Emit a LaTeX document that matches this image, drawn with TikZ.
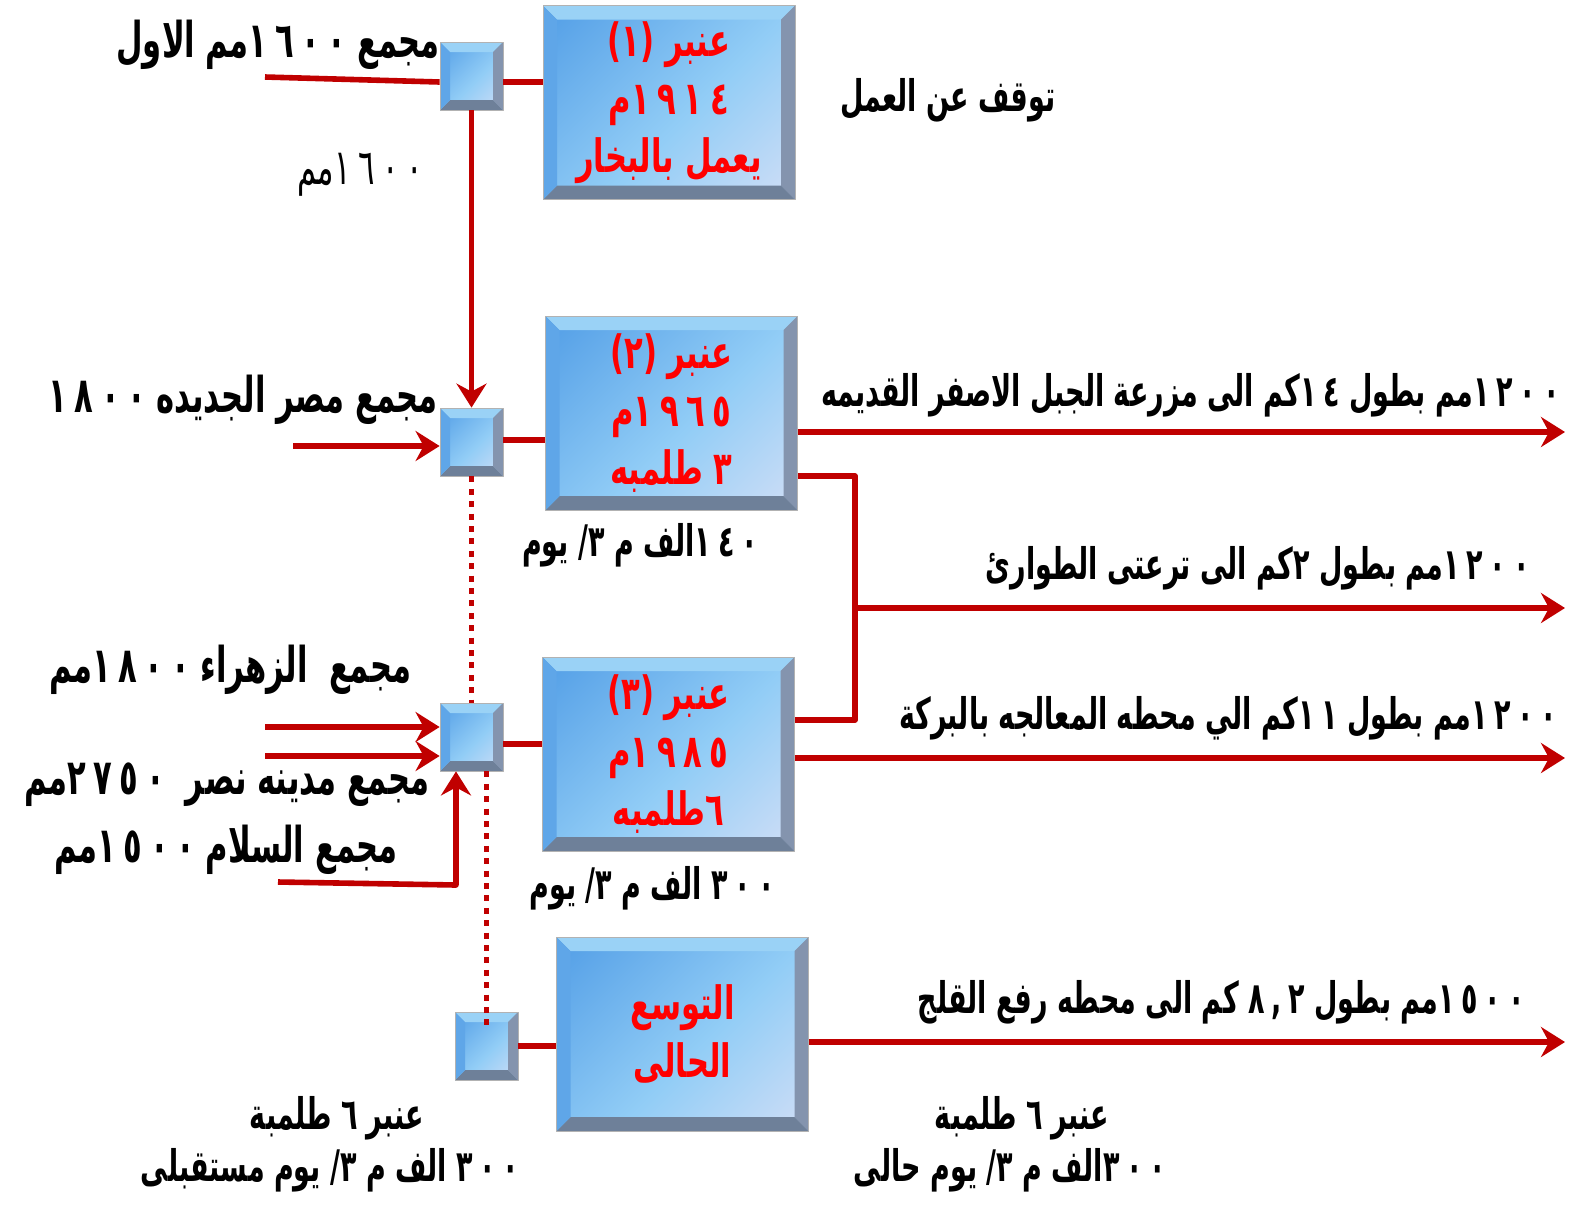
\documentclass[tikz,border=0pt]{standalone}
\usepackage{fontspec}
\usepackage{graphicx}
\usetikzlibrary{arrows.meta}
\TeXXeTstate=1
\newfontfamily\arabicfont[Script=Arabic]{DejaVu Sans}
\newfontfamily\digitfont[Script=Arabic,LetterSpace=25]{DejaVu Sans}
\newcommand\rl[2][1.45]{\scalebox{0.9}[#1]{\beginR#2\endR}}
\newcommand\nm[1]{\beginL{\digitfont#1}\endL{}}
\newcommand\dg[1]{\beginL#1\endL{}}
\definecolor{pipered}{HTML}{C00000}
\definecolor{tankblue}{HTML}{3A8CE0}
\definecolor{tanklight}{HTML}{92CDF6}
\definecolor{tanklav}{HTML}{EEE6F6}
\definecolor{bevtop}{HTML}{9AD2F6}
\definecolor{bevleft}{HTML}{5FA6E8}
\definecolor{bevright}{HTML}{8494AE}
\definecolor{bevbot}{HTML}{6E8099}
\pgfdeclareverticalshading{tankshade}{100bp}{color(0bp)=(tanklav); color(45bp)=(tanklight); color(100bp)=(tankblue)}
\begin{document}
\begin{tikzpicture}[x=0.5pt,y=-0.5pt,line join=round,font=\arabicfont\bfseries\fontsize{15}{18}\selectfont]
\tikzset{
	bevel/.style={path picture={
		\coordinate (q1) at (path picture bounding box.north west);
		\coordinate (q2) at (path picture bounding box.north east);
		\coordinate (q3) at (path picture bounding box.south east);
		\coordinate (q4) at (path picture bounding box.south west);
		\fill[bevtop] (q1)--(q2)--([shift={(-#1,-#1)}]q2)--([shift={(#1,-#1)}]q1)--cycle;
		\fill[bevright] (q2)--(q3)--([shift={(-#1,#1)}]q3)--([shift={(-#1,-#1)}]q2)--cycle;
		\fill[bevbot] (q3)--(q4)--([shift={(#1,#1)}]q4)--([shift={(-#1,#1)}]q3)--cycle;
		\fill[bevleft] (q4)--(q1)--([shift={(#1,-#1)}]q1)--([shift={(#1,#1)}]q4)--cycle;
	}},
	tank/.style={shade,shading=tankshade,shading angle=45,draw=gray!60,line width=0.4pt,
		minimum width=126pt,minimum height=97pt,inner sep=0pt,bevel=7pt,
		align=center,text=red,font=\arabicfont\bfseries\fontsize{17}{29}\selectfont},
	joint/.style={shade,shading=tankshade,shading angle=45,draw=gray!60,line width=0.4pt,
		minimum width=31.5pt,minimum height=34pt,inner sep=0pt,bevel=5pt},
	pipe/.style={draw=pipered,line width=2.8pt},
	feed/.style={pipe,-{Stealth[length=12pt,width=15pt,inset=4pt]}},
	spare/.style={draw=pipered,line width=2.8pt,dash pattern=on 3pt off 3.2pt},
	lab/.style={inner sep=0pt},
	src/.style={lab,anchor=east,font=\arabicfont\bfseries\fontsize{17}{20}\selectfont}
}
\useasboundingbox (0,0) rectangle (1590,1212);
% tanks and joints
\node[tank] (anbar1) at (669,102.5) {\rl[1.35]{عنبر \dg{(١)}}\\\rl[1.35]{\nm{١٩١٤}م}\\\rl[1.35]{يعمل بالبخار}};
\node[tank] (anbar2) at (671.5,413) {\rl[1.35]{عنبر \dg{(٢)}}\\\rl[1.35]{\nm{١٩٦٥}م}\\\rl[1.35]{\dg{٣} طلمبه}};
\node[tank] (anbar3) at (668.5,754) {\rl[1.35]{عنبر \dg{(٣)}}\\\rl[1.35]{\nm{١٩٨٥}م}\\\rl[1.35]{\dg{٦}طلمبه}};
\node[tank] (tawsia) at (682.5,1034) {\rl[1.35]{التوسع}\\\rl[1.35]{الحالى}};
\node[joint] (s1) at (471.5,76) {};
\node[joint] (s2) at (471.5,442) {};
\node[joint] (s3) at (471.5,737) {};
\node[joint] (s4) at (486.5,1046) {};
% free ends
\coordinate (in1) at (265,77);
\coordinate (in2) at (293,446);
\coordinate (in3a) at (265,727);
\coordinate (in3b) at (265,756);
\coordinate (in4) at (278,882);
\coordinate (j3) at (456,885);
\coordinate (j1) at (855,476);
\coordinate (j2) at (855,720);
\coordinate (out1) at (1565,432);
\coordinate (out2) at (1565,608);
\coordinate (out3) at (1565,758);
\coordinate (out4) at (1565,1042);
% pipes
\draw[pipe] (in1)--([yshift=-3pt]s1.west);
\draw[pipe] ([yshift=-3pt]s1.east)--([yshift=-3pt]s1.east -| anbar1.west);
\draw[feed] (s1.south)--(s2.north);
\draw[feed] (in2)--(in2 -| s2.west);
\draw[pipe] ([yshift=1pt]s2.east)--([yshift=1pt]s2.east -| anbar2.west);
\draw[spare] (s2.south)--(s3.north);
\foreach \c in {in3a,in3b}{
	\draw[feed] (\c)--(\c -| s3.west);
}
\draw[feed] (in4)--(j3)--(j3 |- s3.south);
\draw[pipe] ([yshift=-3.5pt]s3.east)--([yshift=-3.5pt]s3.east -| anbar3.west);
\draw[spare] (s4 |- s3.south)--([yshift=-8pt]s4.north);
\draw[pipe] (s4.east)--(s4.east -| tawsia.west);
\draw[feed] (anbar2.east |- out1)--(out1);
\draw[pipe] (anbar2.east |- j1)--(j1)--(j2)--(anbar3.east |- j2);
\draw[feed] (j1 |- out2)--(out2);
\draw[feed] (anbar3.east |- out3)--(out3);
\draw[feed] (tawsia.east |- out4)--(out4);
% labels
\node[src] (lbl1) at (440,45) {\rl{مجمع \nm{١٦٠٠}مم الاول}};
\node[lab,font=\arabicfont\fontsize{17}{20}\selectfont] (len1) at (360,175) {\rl{\nm{١٦٠٠}مم}};
\node[lab] (stop) at (948,100) {\rl{توقف عن العمل}};
\node[src] (lbl2) at (438,400) {\rl{مجمع مصر الجديده \nm{١٨٠٠}}};
\node[lab] (cap2) at (640,545) {\rl{\nm{١٤٠}الف م \dg{٣}/ يوم}};
\node[src] (lbl3) at (412,670) {\rl{مجمع\ \ الزهراء \nm{١٨٠٠}مم}};
\node[src] (lbl4) at (430,785) {\rl{مجمع مدينه نصر\ \ \nm{٢٧٥٠}مم}};
\node[src] (lbl5) at (398,850) {\rl{مجمع السلام \nm{١٥٠٠}مم}};
\node[lab] (cap3) at (652,888) {\rl{\nm{٣٠٠} الف م \dg{٣}/ يوم}};
\node[lab] (fut1) at (337,1118) {\rl{عنبر \dg{٦} طلمبة}};
\node[lab] (fut2) at (330,1170) {\rl{\nm{٣٠٠} الف م \dg{٣}/ يوم مستقبلى}};
\node[lab] (cur1) at (1022,1118) {\rl{عنبر \dg{٦} طلمبة}};
\node[lab] (cur2) at (1010,1170) {\rl{\nm{٣٠٠}الف م \dg{٣}/ يوم حالى}};
\node[lab,anchor=east] (r1) at (1560,395) {\rl{\nm{١٢٠٠}مم بطول \nm{١٤}كم الى مزرعة الجبل الاصفر القديمه}};
\node[lab,anchor=east] (r2) at (1530,568) {\rl{\nm{١٢٠٠}مم بطول \dg{٢}كم الى ترعتى الطوارئ}};
\node[lab,anchor=east] (r3) at (1558,718) {\rl{\nm{١٢٠٠}مم بطول \nm{١١}كم الي محطه المعالجه بالبركة}};
\node[lab,anchor=east] (r4) at (1525,1002) {\rl{\nm{١٥٠٠}مم بطول \nm{٨,٢} كم الى محطه رفع القلج}};
\end{tikzpicture}
\end{document}
